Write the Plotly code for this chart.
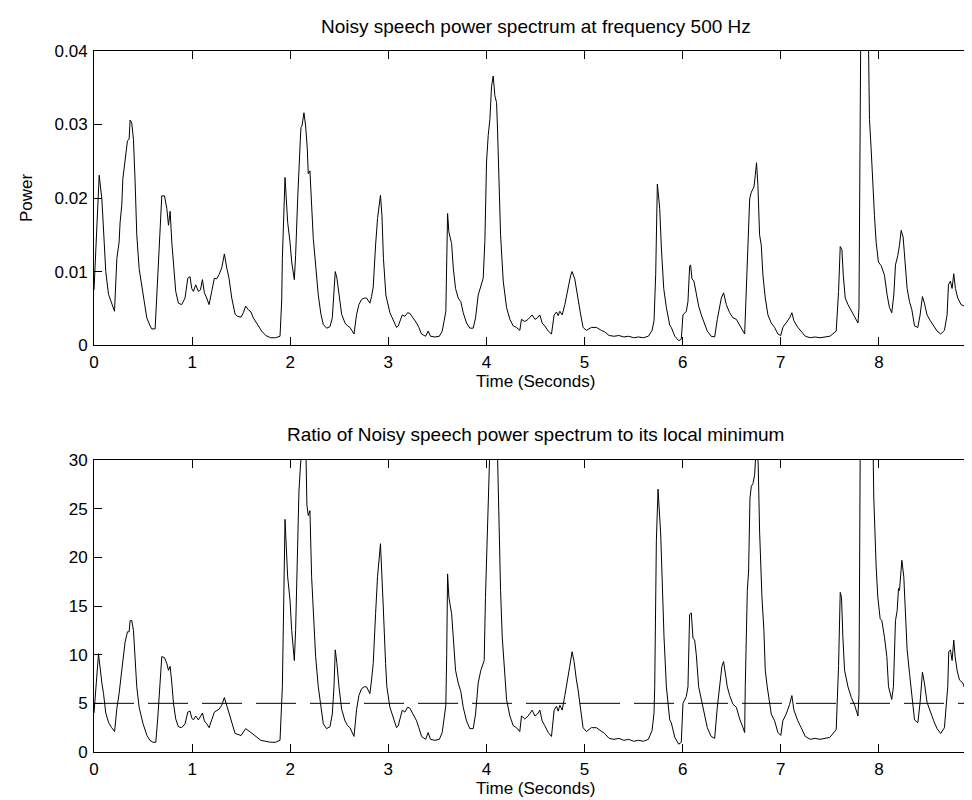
import plotly.graph_objects as go

# ---- Data ----
t_power = [0.000,0.053,0.080,0.097,0.120,0.148,0.182,0.209,0.233,0.256,0.266,0.283,0.294,0.317,0.341,0.358,0.368,0.385,0.402,0.419,
           0.436,0.460,0.504,0.538,0.572,0.589,0.623,0.640,0.657,0.674,0.691,0.718,0.742,0.759,0.776,0.793,0.810,0.833,0.860,0.894,
           0.928,0.956,0.979,0.996,1.013,1.037,1.064,1.085,1.105,1.125,1.149,1.173,1.200,1.227,1.250,1.275,1.302,1.329,1.353,1.376,
           1.404,1.438,1.465,1.499,1.522,1.546,1.573,1.600,1.624,1.658,1.692,1.709,1.750,1.800,1.850,1.896,1.913,1.920,1.947,1.974,
           1.998,2.015,2.042,2.055,2.076,2.089,2.103,2.110,2.120,2.140,2.157,2.174,2.184,2.201,2.218,2.235,2.259,2.286,2.313,2.337,
           2.371,2.405,2.429,2.446,2.459,2.476,2.497,2.524,2.558,2.585,2.609,2.632,2.650,2.677,2.700,2.727,2.755,2.778,2.812,2.829,
           2.846,2.870,2.890,2.920,2.935,2.950,2.975,3.016,3.050,3.084,3.101,3.142,3.169,3.196,3.220,3.254,3.288,3.311,3.339,3.380,
           3.406,3.430,3.474,3.520,3.549,3.569,3.586,3.604,3.617,3.645,3.662,3.685,3.712,3.739,3.763,3.797,3.831,3.865,3.889,3.916,
           3.943,3.967,3.984,4.001,4.018,4.035,4.052,4.069,4.086,4.103,4.113,4.127,4.144,4.171,4.205,4.239,4.273,4.306,4.340,4.357,
           4.391,4.425,4.466,4.494,4.520,4.544,4.568,4.595,4.630,4.663,4.690,4.714,4.731,4.748,4.772,4.799,4.822,4.839,4.859,4.873,
           4.900,4.917,4.934,4.961,4.985,5.019,5.069,5.120,5.171,5.205,5.250,5.300,5.350,5.400,5.450,5.500,5.550,5.600,5.650,5.688,
           5.708,5.725,5.742,5.766,5.783,5.807,5.834,5.850,5.868,5.884,5.920,5.960,5.986,6.003,6.037,6.054,6.071,6.081,6.095,6.115,
           6.139,6.163,6.190,6.224,6.251,6.290,6.326,6.353,6.377,6.394,6.417,6.445,6.479,6.513,6.547,6.581,6.615,6.632,6.649,6.666,
           6.683,6.700,6.727,6.740,6.753,6.767,6.784,6.801,6.818,6.842,6.869,6.903,6.937,6.971,7.000,7.021,7.055,7.090,7.113,7.134,
           7.174,7.208,7.250,7.300,7.350,7.400,7.450,7.500,7.565,7.589,7.606,7.623,7.637,7.657,7.685,7.719,7.753,7.787,7.797,7.814,
           7.830,7.860,7.890,7.904,7.921,7.938,7.955,7.972,7.995,8.023,8.057,8.084,8.108,8.131,8.152,8.169,8.193,8.210,8.227,8.247,
           8.268,8.288,8.312,8.336,8.363,8.397,8.420,8.444,8.464,8.491,8.525,8.559,8.593,8.630,8.668,8.695,8.709,8.729,8.746,8.763,
           8.780,8.804,8.838,8.872,8.900,8.924,8.948,8.975,9.000]
power = [0.0075,0.0231,0.0199,0.0150,0.0100,0.0069,0.0055,0.0046,0.0118,0.0140,0.0167,0.0190,0.0226,0.0253,0.0278,0.0280,0.0306,0.0302,0.0280,0.0222,
         0.0150,0.0104,0.0064,0.0037,0.0026,0.0022,0.0022,0.0068,0.0127,0.0167,0.0203,0.0203,0.0186,0.0163,0.0182,0.0140,0.0105,0.0073,0.0057,0.0055,
         0.0064,0.0091,0.0093,0.0077,0.0073,0.0082,0.0073,0.0075,0.0089,0.0071,0.0064,0.0055,0.0073,0.0091,0.0090,0.0096,0.0105,0.0124,0.0105,0.0091,
         0.0064,0.0042,0.0039,0.0038,0.0044,0.0053,0.0048,0.0045,0.0037,0.0030,0.0024,0.0019,0.0013,0.0010,0.0010,0.0012,0.0060,0.0118,0.0228,0.0167,
         0.0140,0.0113,0.0089,0.0122,0.0199,0.0253,0.0280,0.0296,0.0298,0.0316,0.0298,0.0267,0.0233,0.0237,0.0186,0.0145,0.0109,0.0068,0.0042,0.0028,
         0.0023,0.0025,0.0037,0.0068,0.0100,0.0091,0.0068,0.0042,0.0030,0.0026,0.0024,0.0019,0.0015,0.0042,0.0055,0.0062,0.0064,0.0064,0.0057,0.0066,
         0.0079,0.0136,0.0172,0.0204,0.0176,0.0118,0.0068,0.0044,0.0033,0.0024,0.0026,0.0041,0.0039,0.0044,0.0043,0.0037,0.0030,0.0024,0.0015,0.0012,
         0.0019,0.0012,0.0011,0.0012,0.0019,0.0033,0.0046,0.0179,0.0154,0.0138,0.0105,0.0077,0.0064,0.0059,0.0044,0.0030,0.0023,0.0023,0.0037,0.0068,
         0.0080,0.0091,0.0141,0.0249,0.0285,0.0307,0.0352,0.0366,0.0339,0.0330,0.0294,0.0213,0.0150,0.0087,0.0051,0.0035,0.0026,0.0024,0.0020,0.0035,
         0.0032,0.0035,0.0041,0.0035,0.0037,0.0041,0.0030,0.0026,0.0019,0.0015,0.0041,0.0045,0.0040,0.0046,0.0041,0.0055,0.0068,0.0082,0.0095,0.0100,
         0.0090,0.0075,0.0062,0.0041,0.0024,0.0020,0.0024,0.0024,0.0020,0.0018,0.0013,0.0012,0.0013,0.0011,0.0012,0.0010,0.0011,0.0010,0.0012,0.0020,
         0.0033,0.0096,0.0219,0.0186,0.0132,0.0077,0.0051,0.0041,0.0027,0.0024,0.0012,0.0006,0.0008,0.0041,0.0046,0.0059,0.0107,0.0109,0.0090,0.0087,
         0.0068,0.0053,0.0041,0.0030,0.0019,0.0012,0.0011,0.0035,0.0051,0.0064,0.0071,0.0055,0.0044,0.0037,0.0035,0.0026,0.0019,0.0015,0.0082,0.0140,
         0.0199,0.0208,0.0215,0.0231,0.0248,0.0217,0.0150,0.0136,0.0095,0.0064,0.0041,0.0030,0.0024,0.0015,0.0013,0.0024,0.0030,0.0037,0.0044,0.0033,
         0.0024,0.0019,0.0012,0.0010,0.0011,0.0010,0.0011,0.0012,0.0019,0.0073,0.0134,0.0130,0.0095,0.0064,0.0055,0.0046,0.0039,0.0030,0.0050,0.0400,
         0.0520,0.0580,0.0450,0.0307,0.0267,0.0217,0.0176,0.0140,0.0113,0.0108,0.0095,0.0068,0.0051,0.0044,0.0068,0.0109,0.0122,0.0136,0.0156,0.0147,
         0.0104,0.0077,0.0059,0.0048,0.0026,0.0024,0.0041,0.0066,0.0057,0.0041,0.0033,0.0026,0.0019,0.0015,0.0020,0.0041,0.0082,0.0087,0.0077,0.0097,
         0.0077,0.0064,0.0055,0.0053,0.0059,0.0053,0.0048,0.0035,0.0024]

t_ratio = [0.000,0.046,0.080,0.097,0.120,0.150,0.180,0.210,0.233,0.256,0.283,0.300,0.317,0.341,0.358,0.368,0.385,0.402,0.419,0.436,
           0.460,0.500,0.540,0.570,0.600,0.630,0.650,0.667,0.691,0.718,0.742,0.759,0.776,0.793,0.810,0.833,0.860,0.894,0.928,0.956,
           0.979,0.996,1.013,1.037,1.064,1.105,1.125,1.149,1.173,1.200,1.227,1.275,1.302,1.329,1.353,1.376,1.404,1.438,1.500,1.546,
           1.600,1.658,1.700,1.750,1.800,1.850,1.896,1.920,1.947,1.974,1.998,2.015,2.042,2.055,2.076,2.089,2.103,2.130,2.160,2.170,
           2.184,2.201,2.218,2.235,2.259,2.286,2.313,2.337,2.371,2.405,2.429,2.446,2.459,2.476,2.497,2.524,2.558,2.585,2.609,2.632,
           2.650,2.677,2.700,2.727,2.755,2.778,2.812,2.829,2.846,2.870,2.890,2.920,2.935,2.948,2.972,2.985,3.016,3.050,3.084,3.101,
           3.142,3.169,3.196,3.220,3.254,3.288,3.311,3.339,3.380,3.406,3.430,3.474,3.520,3.549,3.569,3.586,3.595,3.604,3.617,3.645,
           3.662,3.685,3.712,3.739,3.763,3.797,3.831,3.865,3.889,3.916,3.943,3.977,3.990,4.004,4.018,4.035,4.052,4.069,4.086,4.103,
           4.113,4.127,4.144,4.161,4.181,4.205,4.239,4.273,4.306,4.340,4.357,4.391,4.425,4.466,4.494,4.520,4.544,4.568,4.595,4.630,
           4.663,4.690,4.714,4.731,4.748,4.772,4.799,4.822,4.849,4.873,4.893,4.917,4.934,4.961,4.985,5.019,5.069,5.120,5.171,5.205,
           5.250,5.300,5.350,5.400,5.450,5.500,5.550,5.600,5.650,5.688,5.708,5.715,5.732,5.749,5.776,5.789,5.810,5.834,5.850,5.868,
           5.884,5.920,5.960,5.986,6.003,6.037,6.054,6.071,6.088,6.105,6.122,6.139,6.163,6.190,6.224,6.251,6.290,6.326,6.353,6.377,
           6.400,6.417,6.434,6.455,6.479,6.513,6.547,6.581,6.615,6.632,6.638,6.659,6.672,6.686,6.700,6.717,6.734,6.755,6.770,6.784,
           6.808,6.828,6.842,6.862,6.903,6.937,6.971,7.000,7.021,7.055,7.090,7.113,7.134,7.174,7.208,7.250,7.300,7.350,7.400,7.450,
           7.500,7.565,7.589,7.606,7.619,7.633,7.650,7.685,7.719,7.753,7.787,7.797,7.820,7.860,7.900,7.938,7.948,7.972,7.989,8.013,
           8.030,8.057,8.081,8.098,8.131,8.148,8.169,8.186,8.200,8.210,8.220,8.234,8.254,8.268,8.288,8.312,8.336,8.363,8.397,8.420,
           8.444,8.464,8.491,8.525,8.559,8.593,8.630,8.668,8.702,8.712,8.729,8.746,8.763,8.777,8.797,8.821,8.855,8.872,8.900,8.924,
           8.948,8.975,9.000]
ratio = [4.0,10.1,7.1,6.0,4.0,3.0,2.5,2.1,4.5,6.0,8.4,10.1,11.3,12.35,12.35,13.5,13.5,12.5,9.4,6.7,
         4.6,2.9,1.7,1.2,1.0,1.0,3.5,6.7,9.8,9.7,9.1,8.4,8.8,7.1,5.0,3.4,2.6,2.5,2.9,4.1,
         4.2,3.5,3.3,3.7,3.3,4.0,3.2,2.9,2.5,3.3,4.1,4.4,4.8,5.6,4.8,4.1,2.9,1.9,1.7,2.4,
         2.0,1.5,1.2,1.1,1.0,1.0,1.2,6.7,23.9,18.0,15.6,12.5,9.4,12.5,22.0,26.8,29.2,33.0,31.0,25.4,
         24.3,24.8,18.0,14.6,9.8,6.7,4.4,2.9,2.4,2.6,3.9,6.7,10.5,9.1,6.7,4.4,3.2,2.7,2.5,2.0,
         1.6,4.4,5.8,6.5,6.7,6.7,6.0,7.4,9.1,14.2,18.0,21.4,18.6,15.0,9.1,6.7,4.6,3.5,2.5,2.7,
         4.3,4.1,4.6,4.5,3.9,3.2,2.5,1.6,1.3,2.0,1.3,1.2,1.3,2.0,3.5,4.8,10.0,18.3,15.9,14.2,
         11.8,8.4,7.1,6.2,4.6,3.2,2.4,2.4,3.9,7.1,8.4,9.4,15.9,22.7,30.5,32.5,37.0,38.5,35.5,34.5,
         30.5,22.7,16.6,11.8,8.4,5.4,3.7,2.7,2.5,2.1,3.7,3.4,3.7,4.3,3.7,3.9,4.3,3.2,2.7,2.0,
         1.6,4.3,4.7,4.2,4.8,4.3,5.8,7.0,8.8,10.3,9.3,7.4,6.4,4.3,2.5,2.1,2.5,2.5,2.1,1.9,
         1.4,1.3,1.4,1.2,1.3,1.1,1.2,1.1,1.3,2.2,4.0,6.7,21.7,27.0,22.4,17.3,11.8,6.7,5.0,3.3,
         3.0,1.5,0.8,1.0,5.0,5.7,6.7,14.1,14.3,11.7,11.5,10.0,6.7,5.3,3.9,2.5,1.6,1.4,4.6,6.7,
         8.8,9.3,8.1,6.7,5.8,4.9,4.6,3.4,2.5,2.0,6.7,16.6,18.6,26.1,27.3,27.6,28.5,32.5,29.5,22.7,
         15.9,12.5,8.4,6.7,3.9,3.2,2.0,1.7,3.2,3.9,4.9,5.8,4.3,3.2,2.5,1.6,1.3,1.4,1.3,1.4,
         1.5,2.3,8.9,16.4,15.9,11.8,8.4,6.7,5.6,4.8,3.7,6.0,52.0,70.0,55.0,33.0,26.1,19.1,15.9,13.7,
         13.5,11.8,9.8,6.7,5.4,6.7,13.5,14.5,16.8,16.6,18.3,19.7,18.0,14.2,10.5,8.1,6.0,3.3,3.0,5.1,
         8.2,7.1,5.1,4.1,3.2,2.4,1.9,2.5,6.7,10.3,10.5,9.4,11.5,9.8,8.4,7.4,7.1,6.6,7.4,6.6,
         5.9,4.3,3.0]

threshold_t = [0, 9]
threshold = [5, 5]

top_title = "Noisy speech power spectrum at frequency 500 Hz"
bottom_title = "Ratio of Noisy speech power spectrum to its local minimum"
x_label = "Time (Seconds)"
y_label_top = "Power"
x_ticks = [0, 1, 2, 3, 4, 5, 6, 7, 8, 9]
y_ticks_top = [0, 0.01, 0.02, 0.03, 0.04]
y_ticks_bottom = [0, 5, 10, 15, 20, 25, 30]

FONT = "Arial, Liberation Sans, Helvetica, sans-serif"
FS = 17
FS_TITLE = 19

fig = go.Figure()
fig.add_trace(go.Scatter(x=t_power, y=power, mode="lines",
                         line=dict(color="black", width=1), xaxis="x", yaxis="y", showlegend=False))
fig.add_trace(go.Scatter(x=t_ratio, y=ratio, mode="lines",
                         line=dict(color="black", width=1), xaxis="x2", yaxis="y2", showlegend=False))
fig.add_trace(go.Scatter(x=threshold_t, y=threshold, mode="lines",
                         line=dict(color="black", width=1, dash="40px,14px"), xaxis="x2", yaxis="y2", showlegend=False))

axis_common = dict(showgrid=False, zeroline=False, showline=True, linecolor="black", linewidth=1,
                   mirror="ticks", ticks="inside", ticklen=8, tickcolor="black", tickwidth=1,
                   ticklabelstandoff=2,
                   tickfont=dict(family=FONT, size=FS, color="black"))

fig.update_layout(
    width=972, height=800,
    margin=dict(l=86, r=3, t=43, b=56),
    paper_bgcolor="white", plot_bgcolor="white",
    xaxis=dict(domain=[0, 1], range=[0, 9], tickvals=x_ticks, anchor="y", **axis_common),
    yaxis=dict(domain=[0.5805, 1], range=[0, 0.04], tickvals=y_ticks_top,
               ticktext=["0", "0.01", "0.02", "0.03", "0.04"], anchor="x", **axis_common),
    xaxis2=dict(domain=[0, 1], range=[0, 9], tickvals=x_ticks, anchor="y2", **axis_common),
    yaxis2=dict(domain=[0, 0.4165], range=[0, 30], tickvals=y_ticks_bottom, anchor="x2", **axis_common),
    annotations=[
        dict(text=top_title, x=0.5, xref="x domain", y=1, yref="y domain", yanchor="bottom",
             yshift=12, showarrow=False, font=dict(family=FONT, size=FS_TITLE, color="black")),
        dict(text=bottom_title, x=0.5, xref="x2 domain", y=1, yref="y2 domain", yanchor="bottom",
             yshift=13, showarrow=False, font=dict(family=FONT, size=FS_TITLE, color="black")),
        dict(text=x_label, x=0.5, xref="x domain", y=0, yref="y domain", yanchor="middle",
             yshift=-36, showarrow=False, font=dict(family=FONT, size=FS, color="black")),
        dict(text=x_label, x=0.5, xref="x2 domain", y=0, yref="y2 domain", yanchor="middle",
             yshift=-36, showarrow=False, font=dict(family=FONT, size=FS, color="black")),
        dict(text=y_label_top, x=0, xref="paper", y=0.5, yref="y domain", xanchor="center",
             xshift=-68, textangle=-90, showarrow=False, font=dict(family=FONT, size=FS, color="black")),
    ],
)

fig.write_html("out.html")
